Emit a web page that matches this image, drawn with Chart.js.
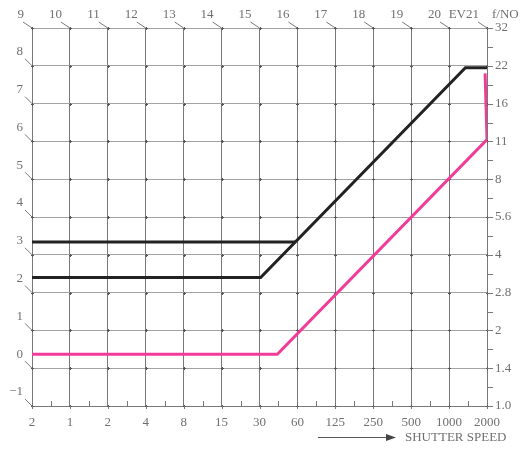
<!DOCTYPE html>
<html>
<head>
<meta charset="utf-8">
<script src="https://cdn.jsdelivr.net/npm/chart.js@4.4.1/dist/chart.umd.min.js"></script>
<style>
  html, body { margin: 0; padding: 0; background: #fff; }
  #wrap { width: 525px; height: 450px; }
</style>
</head>
<body>
<div id="wrap"><canvas id="chart-programa"></canvas></div>
<script>
// axis labels
const shutterLabels = ['2', '1', '2', '4', '8', '15', '30', '60', '125', '250', '500', '1000', '2000'];
const evLabels = ['9', '10', '11', '12', '13', '14', '15', '16', '17', '18', '19', '20', 'EV21'];
const stopLabels = ['\u22121', '0', '1', '2', '3', '4', '5', '6', '7', '8', '9'];
const fNumbers = ['1.0', '1.4', '2', '2.8', '4', '5.6', '8', '11', '16', '22', '32'];

// program lines (x = shutter step, y = aperture step)
const blackUpper = [{ x: 0, y: 3.34 }, { x: 6.94, y: 3.34 }];
const blackLower = [{ x: 0, y: 2.4 }, { x: 6.03, y: 2.4 }, { x: 11.43, y: 7.95 }, { x: 12, y: 7.95 }];
const pinkLine = [{ x: 0, y: 0.37 }, { x: 6.47, y: 0.37 }, { x: 12, y: 6.05 }, { x: 11.95, y: 7.8 }];

const textColor = '#707070';
const vGridColor = '#787878';
const hGridColor = '#a2a2a2';
const serif = '"Liberation Serif", "DejaVu Serif", serif';

const etiquetas = {
  id: 'etiquetas',
  beforeDatasetsDraw(chart) {
    // darker crossings of the grid
    const { ctx, scales: { x, y } } = chart;
    ctx.save();
    ctx.fillStyle = '#555';
    for (let i = 0; i <= 12; i++) {
      for (let j = -1; j <= 9; j++) {
        const px = Math.round(x.getPixelForValue(i));
        const py = Math.round(y.getPixelForValue(j));
        ctx.fillRect(px - 1, py, 3, 1);
        ctx.fillRect(px, py - 1, 1, 3);
      }
    }
    ctx.restore();
  },
  afterDraw(chart) {
    const { ctx, scales: { x, y }, chartArea: a } = chart;
    ctx.save();
    ctx.fillStyle = textColor;
    ctx.strokeStyle = vGridColor;
    ctx.lineWidth = 1;
    ctx.font = '13px ' + serif;

    // bottom: shutter speeds + minor ticks
    ctx.textAlign = 'center';
    ctx.textBaseline = 'middle';
    shutterLabels.forEach((t, i) => {
      const px = x.getPixelForValue(i);
      ctx.fillText(t, px, a.bottom + 17);
      ctx.beginPath();
      ctx.moveTo(Math.round(px) + 0.5, a.bottom);
      ctx.lineTo(Math.round(px) + 0.5, a.bottom + 3);
      ctx.stroke();
      if (i < shutterLabels.length - 1) {
        const mx = Math.round(x.getPixelForValue(i + 0.5)) + 0.5;
        ctx.beginPath();
        ctx.moveTo(mx, a.bottom);
        ctx.lineTo(mx, a.bottom - 5);
        ctx.stroke();
      }
    });

    // right: f numbers + ticks
    ctx.textAlign = 'left';
    fNumbers.forEach((t, i) => {
      const py = y.getPixelForValue(i - 1);
      ctx.fillText(t, a.right + 8, py);
      ctx.beginPath();
      ctx.moveTo(a.right, Math.round(py) + 0.5);
      ctx.lineTo(a.right + 6, Math.round(py) + 0.5);
      ctx.stroke();
      if (i < fNumbers.length - 1) {
        const my = Math.round(y.getPixelForValue(i - 0.5)) + 0.5;
        ctx.beginPath();
        ctx.moveTo(a.right, my);
        ctx.lineTo(a.right + 6, my);
        ctx.stroke();
      }
    });
    ctx.fillText('f/NO', a.right + 5, a.top - 13);

    // top: EV labels with slanted ticks
    ctx.textAlign = 'right';
    evLabels.forEach((t, i) => {
      const px = x.getPixelForValue(i);
      ctx.fillText(t, px - 8, a.top - 13);
      ctx.beginPath();
      ctx.moveTo(px - 9, a.top - 6);
      ctx.lineTo(px, a.top);
      ctx.stroke();
    });

    // left: stop labels with slanted ticks
    stopLabels.forEach((t, i) => {
      if (i === stopLabels.length - 1) return;
      const py = y.getPixelForValue(i - 1);
      ctx.fillText(t, a.left - 9, py - 14);
      ctx.beginPath();
      ctx.moveTo(a.left - 7, py - 7);
      ctx.lineTo(a.left, py);
      ctx.stroke();
    });

    // arrow + caption
    const ay = a.bottom + 31.5;
    ctx.strokeStyle = '#555';
    ctx.beginPath();
    ctx.moveTo(318, ay);
    ctx.lineTo(388, ay);
    ctx.stroke();
    ctx.fillStyle = '#444';
    ctx.beginPath();
    ctx.moveTo(396, ay);
    ctx.lineTo(386, ay - 3.5);
    ctx.lineTo(386, ay + 3.5);
    ctx.closePath();
    ctx.fill();
    ctx.fillStyle = textColor;
    ctx.textAlign = 'left';
    ctx.font = '13px ' + serif;
    ctx.fillText('SHUTTER SPEED', 405, ay);
    ctx.restore();
  }
};

const linea = (data, color) => ({
  data,
  showLine: true,
  borderColor: color,
  borderWidth: 3,
  pointRadius: 0,
  borderJoinStyle: 'miter',
  borderCapStyle: 'butt',
  tension: 0
});

const ctxPrograma = document.getElementById('chart-programa').getContext('2d');
new Chart(ctxPrograma, {
  type: 'scatter',
  data: {
    datasets: [
      linea(pinkLine, '#f03c98'),
      linea(blackUpper, '#222222'),
      linea(blackLower, '#222222')
    ]
  },
  options: {
    responsive: true,
    maintainAspectRatio: false,
    animation: false,
    layout: { padding: { left: 32, top: 28, right: 38, bottom: 44 } },
    plugins: {
      legend: { display: false },
      tooltip: { enabled: false }
    },
    scales: {
      x: {
        type: 'linear', min: 0, max: 12,
        ticks: { display: false, stepSize: 1 },
        grid: { color: vGridColor, lineWidth: 1, drawTicks: false },
        border: { display: true, color: vGridColor }
      },
      y: {
        type: 'linear', min: -1, max: 9,
        ticks: { display: false, stepSize: 1 },
        grid: { color: hGridColor, lineWidth: 1, drawTicks: false },
        border: { display: true, color: vGridColor }
      }
    }
  },
  plugins: [etiquetas]
});
</script>
</body>
</html>
